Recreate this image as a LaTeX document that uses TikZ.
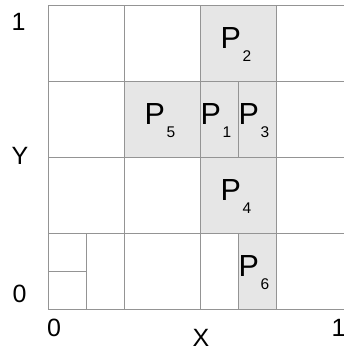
\documentclass[tikz,border=0pt]{standalone}
\usepackage{fontspec}
\setmainfont{Liberation Sans}
\usepackage{xcolor}
\usepackage{tikz}
\definecolor{gridgray}{HTML}{949494}
\definecolor{cellgray}{HTML}{E6E6E6}
% P with a low subscript
\newcommand{\plab}[1]{P\kern1.5pt\raisebox{-13.5pt}{\fontsize{15.5}{15.5}\selectfont #1}}

\begin{document}
\begin{tikzpicture}[
  x=1pt, y=-1pt,
  grid/.style={draw=gridgray, line width=1pt},
  cell/.style={grid, fill=cellgray},
  plabel/.style={anchor=base west, inner sep=0pt, font=\fontsize{30.5}{30.5}\selectfont},
  axis/.style={inner sep=0pt, font=\fontsize{25}{25}\selectfont},
]
  \useasboundingbox (0,0) rectangle (344,349);
  \begin{scope}
    \clip (0,0) rectangle (344,349);
    % Shaded cells
    \draw[cell] (200,5)   rectangle (276,81);
    \draw[cell] (124,81)  rectangle (200,157);
    \draw[cell] (200,81)  rectangle (238,157);
    \draw[cell] (238,81)  rectangle (276,157);
    \draw[cell] (200,157) rectangle (276,233);
    \draw[cell] (238,233) rectangle (276,309);
    % Grid
    \foreach \x in {48,124,200,276}
      \foreach \y in {5,81,157,233}
        \draw[grid] (\x,\y) rectangle +(76,76);
    % Split cells
    \draw[grid] (86,233) -- (86,309);
    \draw[grid] (48,271) -- (86,271);
    \draw[grid] (238,233) -- (238,309);
  \end{scope}

  % Labels
  \node[plabel] (p2) at (220.5,48)  {\plab{2}};
  \node[plabel] (p5) at (144.5,124) {\plab{5}};
  \node[plabel] (p1) at (200.5,124) {\plab{1}};
  \node[plabel] (p3) at (238.5,124) {\plab{3}};
  \node[plabel] (p4) at (220.5,200) {\plab{4}};
  \node[plabel] (p6) at (238.5,276) {\plab{6}};

  % Axes
  \node[axis] (ytop) at (18.5,22)  {1};
  \node[axis] (ylab) at (20,155.5) {Y};
  \node[axis] (ybot) at (19.5,293.5) {0};
  \node[axis] (xbot) at (54,327.5) {0};
  \node[axis] (xlab) at (201,337.5) {X};
  \node[axis, anchor=west] (xtop) at (331.5,327.5) {1};
\end{tikzpicture}
\end{document}
